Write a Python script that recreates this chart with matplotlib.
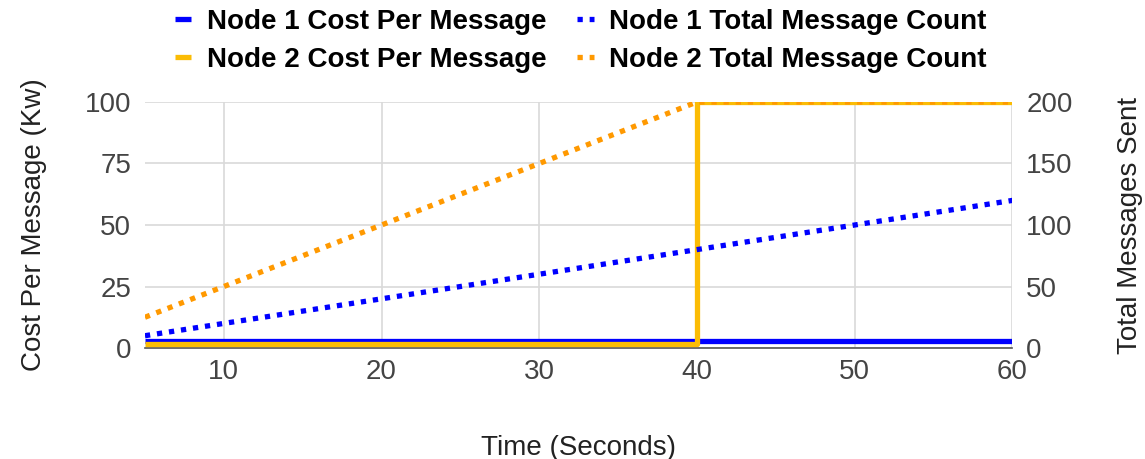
import matplotlib
matplotlib.use("Agg")
from matplotlib import pyplot as plt

plt.rcParams['font.family'] = ['Liberation Sans', 'DejaVu Sans']

# time in seconds
times = [5, 10, 15, 20, 25, 30, 35, 40, 45, 50, 55, 60]
# cost per message (Kw), left axis
node1_cost = [3, 3, 3, 3, 3, 3, 3, 3, 3, 3, 3, 3]
node2_cost = [1.5, 1.5, 1.5, 1.5, 1.5, 1.5, 1.5, 100, 100, 100, 100, 100]
# total messages sent, right axis
node1_total = [10, 20, 30, 40, 50, 60, 70, 80, 90, 100, 110, 120]
node2_total = [25, 50, 75, 100, 125, 150, 175, 200, 200, 200, 200, 200]

blue = '#0000ff'
gold = '#fbbc05'
orange = '#ff9900'
textc = '#444444'

fig = plt.figure(figsize=(11.45, 4.59), dpi=100)
ax = fig.add_axes([0.1266, 0.2418, 0.7576, 0.536])
ax2 = ax.twinx()

l1, = ax.plot(times, node1_cost, color=blue, lw=3.8, drawstyle='steps-post',
              solid_capstyle='butt', zorder=3)
l2, = ax.plot(times, node2_cost, color=gold, lw=3.8, drawstyle='steps-post',
              solid_capstyle='butt', zorder=4)
l3, = ax2.plot(times, node1_total, color=blue, lw=3.8, ls=(0, (1, 1.3)))
l4, = ax2.plot(times, node2_total, color=orange, lw=3.8, ls=(0, (1, 1.3)))

ax.set_xlim(5, 60)
ax.set_ylim(0, 100)
ax2.set_ylim(0, 200)
ax.set_xticks([10, 20, 30, 40, 50, 60])
ax.set_yticks([0, 25, 50, 75, 100])
ax2.set_yticks([0, 50, 100, 150, 200])

ax.grid(True, color='#d9d9d9', lw=1.2)
ax.set_axisbelow(True)
for a in (ax, ax2):
    for s in a.spines.values():
        s.set_visible(False)
    a.tick_params(length=0, labelsize=20, labelcolor=textc)
ax.spines['bottom'].set_visible(True)
ax.spines['bottom'].set_color('#555555')
ax.spines['bottom'].set_linewidth(1.2)
ax.tick_params(axis='x', pad=8)
ax.tick_params(axis='y', pad=10)
ax2.tick_params(axis='y', pad=10)

ax.set_xlabel('Time (Seconds)', fontsize=20, color='#222222', labelpad=36)
ax.set_ylabel('Cost Per Message (Kw)', fontsize=20, color='#222222', labelpad=27)
ax2.set_ylabel('Total Messages Sent', fontsize=20, color='#222222', labelpad=32)

fig.legend([l1, l2, l3, l4],
           ['Node 1 Cost Per Message', 'Node 2 Cost Per Message',
            'Node 1 Total Message Count', 'Node 2 Total Message Count'],
           ncol=2, loc='upper center', bbox_to_anchor=(0.507, 1.035),
           frameon=False, prop={'weight': 'bold', 'size': 20},
           handlelength=0.6, handletextpad=0.55, columnspacing=1.1,
           labelspacing=0.42)

fig.savefig('out.png', dpi=100)
